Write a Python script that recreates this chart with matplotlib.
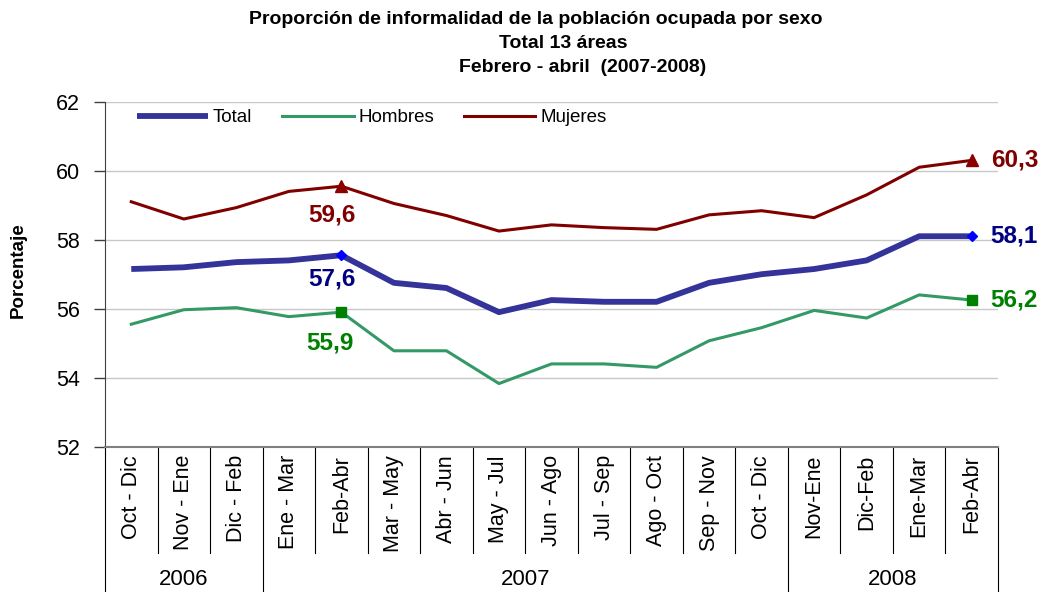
import matplotlib
matplotlib.use("Agg")
import matplotlib.pyplot as plt
import matplotlib.transforms as mtransforms

plt.rcParams['font.family'] = ['Liberation Sans', 'DejaVu Sans']

# Periodos (trimestres moviles) y anios
periodos = ["Oct - Dic", "Nov - Ene", "Dic - Feb", "Ene - Mar", "Feb-Abr", "Mar - May",
            "Abr - Jun", "May - Jul", "Jun - Ago", "Jul - Sep", "Ago - Oct", "Sep - Nov",
            "Oct - Dic", "Nov-Ene", "Dic-Feb", "Ene-Mar", "Feb-Abr"]
anios = ["2006", "2007", "2008"]
n_por_anio = [3, 10, 4]

# Proporcion de informalidad (%)
total = [57.15, 57.2, 57.35, 57.4, 57.55, 56.75, 56.6, 55.9, 56.25, 56.2, 56.2,
         56.75, 57.0, 57.15, 57.4, 58.1, 58.1]
hombres = [55.55, 55.97, 56.03, 55.77, 55.9, 54.78, 54.78, 53.83, 54.4, 54.4, 54.3,
           55.07, 55.45, 55.95, 55.73, 56.4, 56.25]
mujeres = [59.1, 58.6, 58.93, 59.4, 59.55, 59.05, 58.7, 58.25, 58.43, 58.35, 58.3,
           58.72, 58.84, 58.64, 59.3, 60.1, 60.3]

# Puntos destacados (Feb-Abr 2007 y Feb-Abr 2008)
destacados = [4, 16]
etiq_total = ["57,6", "58,1"]
etiq_hombres = ["55,9", "56,2"]
etiq_mujeres = ["59,6", "60,3"]

x = list(range(len(periodos)))

fig = plt.figure(figsize=(10.49, 5.92), dpi=100)
ax = fig.add_axes([105 / 1049, 1 - 446.7 / 592, 893 / 1049, 345 / 592])

c_total, c_hom, c_muj = "#333399", "#339966", "#800000"
ax.plot(x, total, color=c_total, lw=4.2, label="Total", solid_capstyle='butt', zorder=3)
ax.plot(x, hombres, color=c_hom, lw=2.2, label="Hombres", zorder=3)
ax.plot(x, mujeres, color=c_muj, lw=2.2, label="Mujeres", zorder=3)

ax.plot([x[i] for i in destacados], [total[i] for i in destacados], ls='none',
        marker='D', ms=5, color='#0000FF', zorder=4)
ax.plot([x[i] for i in destacados], [hombres[i] for i in destacados], ls='none',
        marker='s', ms=7, color='#008000', zorder=4)
ax.plot([x[i] for i in destacados], [mujeres[i] for i in destacados], ls='none',
        marker='^', ms=8, color='#8B0000', zorder=4)

# Etiquetas de datos
i0, i1 = destacados
fs_lab = 17.5
ax.annotate(etiq_mujeres[0], (x[i0], mujeres[i0]), xytext=(-9, -29), textcoords='offset pixels',
            ha='center', va='center', color='#800000', fontsize=fs_lab, fontweight='bold')
ax.annotate(etiq_total[0], (x[i0], total[i0]), xytext=(-9, -24), textcoords='offset pixels',
            ha='center', va='center', color='#000080', fontsize=fs_lab, fontweight='bold')
ax.annotate(etiq_hombres[0], (x[i0], hombres[i0]), xytext=(-11, -31), textcoords='offset pixels',
            ha='center', va='center', color='#008000', fontsize=fs_lab, fontweight='bold')
ax.annotate(etiq_mujeres[1], (x[i1], mujeres[i1]), xytext=(19, 0), textcoords='offset pixels',
            ha='left', va='center', color='#800000', fontsize=fs_lab, fontweight='bold',
            annotation_clip=False)
ax.annotate(etiq_total[1], (x[i1], total[i1]), xytext=(19, 0), textcoords='offset pixels',
            ha='left', va='center', color='#000080', fontsize=fs_lab, fontweight='bold',
            annotation_clip=False)
ax.annotate(etiq_hombres[1], (x[i1], hombres[i1]), xytext=(19, 0), textcoords='offset pixels',
            ha='left', va='center', color='#008000', fontsize=fs_lab, fontweight='bold',
            annotation_clip=False)

# Ejes
ax.set_xlim(-0.5, len(periodos) - 0.5)
ax.set_ylim(52, 62)
ax.set_yticks([52, 54, 56, 58, 60, 62])
ax.tick_params(axis='y', labelsize=15.5, length=8, width=1, color='#404040', pad=10)
ax.grid(axis='y', color='#c8c8c8', lw=1)
ax.set_axisbelow(True)
for s in ['top', 'right']:
    ax.spines[s].set_visible(False)
ax.spines['left'].set_color('#404040')
ax.spines['bottom'].set_color('#808080')
ax.spines['bottom'].set_linewidth(1.5)

ax.set_xticks(x)
ax.set_xticklabels(periodos, rotation=90, fontsize=15.5, va='top')
ax.tick_params(axis='x', length=0, pad=6)

# Separadores de categorias y anios
trans = mtransforms.blended_transform_factory(ax.transData, ax.transAxes)
limites = [0]
for n in n_por_anio:
    limites.append(limites[-1] + n)
for b in range(len(periodos) + 1):
    bottom = -0.421 if b in limites else -0.308
    ax.plot([b - 0.5, b - 0.5], [0, bottom], transform=trans, color='black',
            lw=0.8, clip_on=False)
for k, a in enumerate(anios):
    cx = (limites[k] + limites[k + 1] - 1) / 2
    ax.text(cx, -0.386, a, transform=trans, ha='center', va='center', fontsize=16)

# Leyenda
ax.legend(loc='center left', bbox_to_anchor=(0.036, 0.953), ncol=3, frameon=False,
          fontsize=13.5, handlelength=3.8, handletextpad=0.25, columnspacing=1.6,
          borderpad=0, borderaxespad=0)

# Titulos
fig.text(536 / 1049, 1 - 20 / 592, "Proporción de informalidad de la población ocupada por sexo",
         ha='center', va='center', fontsize=14, fontweight='bold')
fig.text(563 / 1049, 1 - 43 / 592, "Total 13 áreas",
         ha='center', va='center', fontsize=14, fontweight='bold')
fig.text(583 / 1049, 1 - 67 / 592, "Febrero - abril  (2007-2008)",
         ha='center', va='center', fontsize=14, fontweight='bold')
fig.text(18 / 1049, 1 - 270 / 592, "Porcentaje", rotation=90, ha='center', va='center',
         fontsize=13.5, fontweight='bold')

fig.savefig("out.png", dpi=100)
